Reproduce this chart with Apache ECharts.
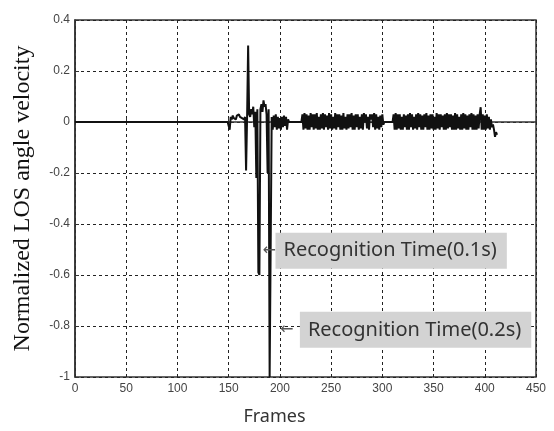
<!DOCTYPE html>
<html>
<head>
<meta charset="utf-8">
<script src="https://cdn.jsdelivr.net/npm/echarts@6/dist/echarts.min.js"></script>
<style>
  html, body { margin: 0; padding: 0; background: #fff; }
  #chart { width: 554px; height: 431px; }
</style>
</head>
<body>
<div id="chart"></div>
<script>
// flat lead-in before the target appears
const leadIn = [[0, 0], [149, 0]];

// one value per frame, starting at frame 150
const startFrame = 150;
const velocity = [
  0, -0.03, 0.02, 0.01, 0.025, 0.015, 0.02, 0.01, 0.025, 0.02,          // 150
  0.03, 0.02, 0.025, 0.015, 0.02, 0.01, 0.02, -0.19, 0.02, 0.30,        // 160
  0.03, 0.02, 0.05, 0.03, 0.06, -0.02, 0.04, -0.22, 0.05, -0.59,        // 170
  -0.6, 0.05, 0.07, 0.04, 0.085, 0.06, 0.07, 0.03, -0.2, 0.05,          // 180
  -1, -1, 0.02, -0.03, 0.025, -0.02, 0.03, -0.03, 0.02, -0.025,         // 190
  0.015, -0.03, 0.02, -0.02, 0.025, -0.015, 0.02, -0.03, 0.01, 0,       // 200
  0, 0, 0, 0, 0, 0, 0, 0, 0, 0,                                         // 210
  0, 0, 0.03, -0.03, 0.035, -0.025, 0.03, -0.03, 0.025, -0.03,          // 220
  0.035, -0.02, 0.03, -0.03, 0.03, -0.025, 0.035, -0.03, 0.02, -0.03,   // 230
  0.03, -0.025, 0.035, -0.03, 0.03, -0.02, 0.025, -0.03, 0.035, -0.025, // 240
  0.03, -0.03, 0.02, -0.025, 0.035, -0.03, 0.03, -0.02, 0.03, -0.03,    // 250
  0.025, -0.03, 0.035, -0.025, 0.02, -0.03, 0.03, -0.025, 0.03, -0.02,  // 260
  0.035, -0.03, 0.025, -0.03, 0.03, -0.02, 0.03, -0.03, 0.02, -0.025,   // 270
  0.03, -0.03, 0.035, 0, 0.03, -0.025, 0.02, -0.03, 0.03, 0.01,         // 280
  0.03, -0.02, 0.035, -0.03, 0.03, -0.025, 0.02, -0.03, 0.025, -0.02,   // 290
  0.03, -0.01, 0, 0, 0, 0, 0, 0, 0, 0,                                  // 300
  0, 0.03, -0.03, 0.035, -0.03, 0.03, -0.025, 0.03, -0.03, 0.02,        // 310
  -0.03, 0.03, -0.02, 0.025, -0.03, 0.03, -0.03, 0.035, -0.02, 0.03,    // 320
  -0.03, 0.02, -0.025, 0.03, -0.03, 0.035, -0.02, 0.03, -0.03, 0.025,   // 330
  -0.03, 0.03, -0.02, 0.035, -0.03, 0.025, -0.03, 0.03, -0.025, 0.03,   // 340
  -0.03, 0.02, -0.03, 0.035, -0.025, 0.03, -0.03, 0.03, -0.02, 0.025,   // 350
  -0.03, 0.03, -0.03, 0.035, -0.025, 0.03, -0.02, 0.03, -0.03, 0.025,   // 360
  -0.03, 0.035, -0.03, 0.03, -0.025, 0.02, -0.03, 0.03, -0.03, 0.035,   // 370
  -0.025, 0.03, -0.03, 0.025, -0.03, 0.03, -0.02, 0.035, -0.03, 0.03,   // 380
  -0.03, 0.025, -0.03, 0.03, -0.025, 0.03, 0.058, -0.03, 0.03, -0.03,   // 390
  0.025, -0.03, 0.03, -0.025, 0.02, -0.03, 0.01, -0.02, -0.01, -0.03,   // 400
  -0.058, -0.04, -0.05                                                  // 410
];

// annotations: [label, arrow tip frame, arrow tip value, gap from arrow to box]
const notes = [
  ['Recognition Time(0.1s)', 183, -0.505, 13],
  ['Recognition Time(0.2s)', 200, -0.815, 20]
];

const chart = echarts.init(document.getElementById('chart'));

const seriesData = leadIn.concat(velocity.map((v, i) => [startFrame + i, v]));

const gridLine = { show: true, lineStyle: { color: '#222', width: 1, type: [3, 3] } };

chart.setOption({
  animation: false,
  grid: {
    left: 75, right: 18, top: 20, bottom: 48,
    show: true, borderColor: '#333', borderWidth: 1.5
  },
  xAxis: {
    type: 'value',
    min: 0, max: 450, interval: 50,
    name: 'Frames',
    nameLocation: 'middle',
    nameGap: 31,
    nameTextStyle: { fontFamily: 'Noto Sans', fontSize: 18, color: '#333', padding: [0, 62, 0, 0] },
    axisLine: { show: true, lineStyle: { color: '#333', width: 1.5 } },
    axisTick: { show: true, inside: true, length: 4, lineStyle: { color: '#333' } },
    axisLabel: { color: '#444', fontFamily: 'Liberation Sans', fontSize: 12, margin: 6 },
    splitLine: gridLine
  },
  yAxis: {
    type: 'value',
    min: -1, max: 0.4, interval: 0.2,
    name: 'Normalized LOS angle velocity',
    nameLocation: 'middle',
    nameGap: 40,
    nameTextStyle: { fontFamily: 'Liberation Serif', fontSize: 24, color: '#111' },
    axisLine: { show: true, lineStyle: { color: '#333', width: 1.5 } },
    axisTick: { show: true, inside: true, length: 4, lineStyle: { color: '#333' } },
    axisLabel: { color: '#444', fontFamily: 'Liberation Sans', fontSize: 12, margin: 5 },
    splitLine: gridLine
  },
  series: [{
    type: 'line',
    data: seriesData,
    symbol: 'none',
    lineStyle: { color: '#111', width: 2 },
    z: 3
  }]
});

// place the annotation boxes at their data anchors
const graphics = [];
notes.forEach(([label, fx, fy, gap]) => {
  const p = chart.convertToPixel({ gridIndex: 0 }, [fx, fy]);
  graphics.push({
    type: 'text',
    x: p[0], y: p[1],
    style: { text: '←', font: '16px "DejaVu Sans"', fill: '#555', verticalAlign: 'middle', align: 'left' },
    z: 10
  });
  graphics.push({
    type: 'text',
    x: p[0] + gap, y: p[1],
    style: {
      text: label,
      font: '20px "Noto Sans"',
      fill: '#333',
      verticalAlign: 'middle',
      align: 'left',
      backgroundColor: '#d3d3d3',
      padding: [8, 10, 8, 8]
    },
    z: 10
  });
});
chart.setOption({ graphic: graphics });

window.addEventListener('resize', () => chart.resize());
</script>
</body>
</html>
